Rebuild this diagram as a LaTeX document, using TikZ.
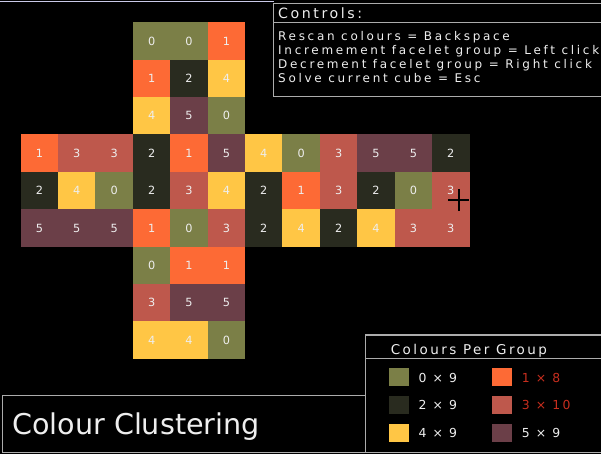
\documentclass[tikz,border=0pt]{standalone}
\usepackage{fontspec}
\setmainfont{DejaVu Sans}
\newfontfamily\cvfont[LetterSpace=18]{DejaVu Sans}
\newfontfamily\cvwide[LetterSpace=22.5]{DejaVu Sans}
\definecolor{grp0}{RGB}{123,127,71}
\definecolor{grp1}{RGB}{253,106,53}
\definecolor{grp2}{RGB}{41,43,31}
\definecolor{grp3}{RGB}{190,88,76}
\definecolor{grp4}{RGB}{255,198,69}
\definecolor{grp5}{RGB}{107,63,72}
\definecolor{frame}{RGB}{172,172,172}
\definecolor{warn}{RGB}{200,46,30}
\definecolor{ink}{RGB}{238,238,238}

\begin{document}
\begin{tikzpicture}[x=1pt,y=-1pt,
  cell/.style={minimum width=37.7pt,minimum height=37.7pt,inner sep=0pt,text=ink,font=\cvfont\fontsize{11.3}{11}\selectfont},
  swatch/.style={minimum width=19.5pt,minimum height=17.5pt,inner sep=0pt},
  panel/.style={draw=frame,line width=1.3pt},
  label/.style={anchor=base west,inner sep=0pt,text=ink}]

\fill[black] (0,0) rectangle (601,454);
\useasboundingbox (0,0) rectangle (601,454);
\draw[frame!70!blue!40,line width=1pt] (0,2) -- (273.5,2);

% cube net, one row of facelets per entry
\foreach \row/\first/\vals in {0/3/{0,0,1},1/3/{1,2,4},2/3/{4,5,0},
    3/0/{1,3,3,2,1,5,4,0,3,5,5,2},4/0/{2,4,0,2,3,4,2,1,3,2,0,3},5/0/{5,5,5,1,0,3,2,4,2,4,3,3},
    6/3/{0,1,1},7/3/{3,5,5},8/3/{4,4,0}}
  \foreach \v [count=\col from \first] in \vals
    \node[cell,fill=grp\v] (c\row-\col) at ({20.7+37.4*(\col+0.5)},{22.3+37.4*(\row+0.5)}) {\v};

% mouse cursor
\coordinate (cur) at (459.3,199.7);
\draw[black,line width=2pt] ([xshift=-11pt]cur) -- ([xshift=10pt]cur) ([yshift=-11pt]cur) -- ([yshift=11pt]cur);

% controls
\draw[panel] (273.5,3.5) rectangle (610,96.7);
\draw[panel] (273.5,22.3) -- (610,22.3);
\node[label,font=\cvfont\fontsize{14.2}{15}\selectfont] (ctl) at (278,18.3) {Controls:};
\foreach \t [count=\i from 0] in {Rescan colours = Backspace,Incremement facelet group = Left click,
    Decrement facelet group = Right click,Solve current cube = Esc}
  \node[label,font=\cvwide\fontsize{12}{13}\selectfont] (ctl\i) at (278,{40.7+13.95*\i}) {\t};

% title
\draw[panel] (2.7,395.7) rectangle (365.7,452.5);
\node[label,font=\fontsize{28.6}{30}\selectfont] (title) at (12,434.3) {Colour Clustering};

% colours per group
\draw[panel] (365.7,335) rectangle (610,452.5);
\draw[panel] (365.7,358.3) -- (610,358.3);
\node[label,font=\cvfont\fontsize{13.5}{14}\selectfont] (leg) at (390.7,354) {Colours Per Group};
\foreach \g/\n/\x/\y/\c in {0/9/389/0/ink,2/9/389/1/ink,4/9/389/2/ink,1/8/492.3/0/warn,3/10/492.3/1/warn,5/9/492.3/2/ink} {
  \node[swatch,fill=grp\g] (sw\g) at ({\x+9.8},{377+28*\y}) {};
  \node[label,text=\c,font=\cvfont\fontsize{12.4}{13}\selectfont] (n\g) at ({\x+29.3},{382+27.8*\y}) {\g\ × \n};
}

\end{tikzpicture}
\end{document}
